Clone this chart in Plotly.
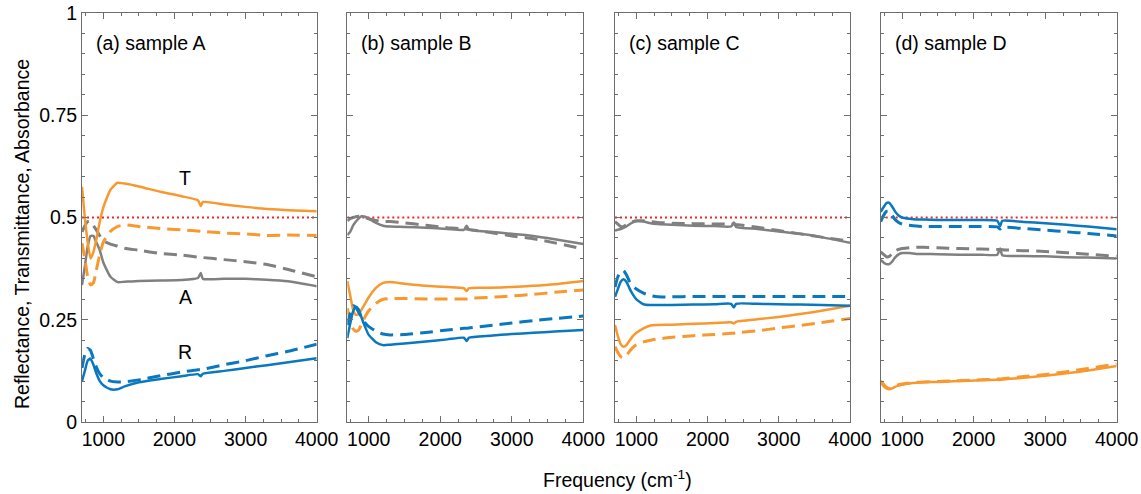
import plotly.graph_objects as go

# ---------------- data ----------------
freq = [700, 740, 780, 820, 860, 900, 950, 1000, 1100, 1200, 1300, 1500,
        1800, 2100, 2330, 2370, 2400, 2700, 3000, 3300, 3600, 4000]

# sample A
a_T = [.575, .50, .44, .40, .415, .445, .49, .525, .568, .585, .583, .576,
       .563, .552, .542, .528, .538, .532, .526, .521, .518, .515]
a_T_d = [.437, .40, .355, .335, .34, .37, .41, .44, .466, .478, .482, .478,
         .473, .47, .467, .466, .466, .462, .46, .456, .457, .456]
a_A = [.335, .38, .43, .455, .455, .44, .42, .39, .355, .342, .343, .345,
       .346, .347, .352, .364, .35, .35, .35, .348, .344, .332]
a_A_d = [.465, .48, .49, .49, .48, .47, .455, .443, .435, .43, .425, .42,
         .412, .408, .403, .402, .402, .397, .392, .385, .373, .355]
a_R = [.10, .125, .15, .155, .14, .12, .10, .09, .08, .08, .087, .097,
       .105, .112, .117, .112, .118, .125, .132, .139, .146, .156]
a_R_d = [.132, .165, .18, .175, .155, .135, .118, .108, .10, .098, .098, .103,
         .113, .122, .128, .128, .129, .14, .15, .162, .173, .19]

# sample B
b_T = [.345, .31, .275, .262, .265, .275, .29, .305, .328, .34, .342, .338,
       .333, .33, .327, .32, .327, .328, .33, .333, .337, .345]
b_T_d = [.278, .25, .228, .222, .225, .24, .258, .272, .29, .30, .302, .302,
         .301, .301, .301, .301, .302, .305, .308, .312, .317, .323]
b_A = [.457, .465, .48, .49, .498, .503, .502, .497, .487, .48, .478, .477,
       .475, .472, .47, .48, .47, .465, .46, .455, .447, .435]
b_A_d = [.492, .497, .50, .502, .503, .502, .50, .497, .493, .49, .49, .487,
         .481, .475, .472, .472, .471, .463, .455, .448, .438, .423]
b_R = [.205, .24, .27, .282, .275, .255, .232, .213, .195, .188, .189, .192,
       .197, .202, .206, .198, .206, .211, .215, .218, .221, .225]
b_R_d = [.237, .265, .284, .28, .268, .255, .242, .233, .222, .215, .213, .214,
         .219, .225, .229, .229, .23, .236, .242, .248, .253, .259]

# sample C
c_T = [.237, .21, .19, .184, .188, .198, .21, .218, .229, .236, .237, .238,
       .24, .242, .244, .241, .245, .251, .257, .264, .272, .284]
c_T_d = [.184, .17, .16, .157, .162, .172, .182, .189, .196, .20, .203, .207,
         .211, .214, .217, .217, .218, .223, .23, .236, .243, .253]
c_A = [.468, .47, .472, .475, .478, .483, .488, .491, .49, .486, .484, .482,
       .48, .479, .478, .488, .477, .472, .466, .46, .452, .438]
c_A_d = [.49, .484, .478, .478, .482, .487, .49, .492, .492, .49, .488, .486,
         .485, .484, .484, .484, .483, .476, .468, .46, .452, .442]
c_R = [.306, .325, .343, .349, .343, .328, .312, .30, .288, .286, .286, .286,
       .287, .288, .289, .28, .289, .289, .288, .287, .286, .284]
c_R_d = [.33, .355, .368, .37, .36, .345, .333, .325, .315, .309, .306, .306,
         .307, .307, .307, .307, .307, .307, .307, .307, .307, .307]

# sample D
d_T = [.096, .088, .082, .08, .082, .086, .089, .091, .094, .096, .097, .098,
       .10, .102, .103, .103, .104, .108, .113, .119, .126, .137]
d_T_d = [.10, .092, .085, .082, .084, .088, .091, .093, .095, .097, .098, .099,
         .101, .103, .105, .105, .106, .111, .116, .123, .131, .142]
d_A = [.396, .39, .386, .386, .392, .402, .41, .413, .413, .411, .411, .41,
       .409, .409, .409, .424, .408, .406, .405, .403, .402, .40]
d_A_d = [.416, .41, .404, .405, .412, .418, .422, .424, .426, .427, .427, .426,
         .424, .423, .422, .422, .421, .419, .417, .414, .41, .405]
d_R = [.514, .525, .535, .536, .527, .515, .505, .50, .497, .495, .495, .494,
       .494, .494, .492, .479, .492, .489, .486, .482, .478, .471]
d_R_d = [.49, .505, .515, .515, .505, .495, .488, .484, .481, .479, .478, .478,
         .478, .478, .477, .472, .476, .473, .469, .465, .461, .455]

ref_x = [700, 4000]
ref_y = [0.5, 0.5]

panel_titles = ["(a) sample A", "(b) sample B", "(c) sample C", "(d) sample D"]
x_ticks = [1000, 2000, 3000, 4000]
y_ticks = [0, 0.25, 0.5, 0.75, 1]
y_tick_text = ["0", "0.25", "0.5", "0.75", "1"]

# labels in panel (a)
lab_text = ["T", "A", "R"]
lab_x = [2150, 2150, 2150]
lab_y = [0.597, 0.306, 0.171]

# ---------------- styling ----------------
BLUE = "#0A78BE"
ORANGE = "#F8982F"
GRAY = "#808080"
AXC = "#6E6E6E"
FONT = "Arial, Liberation Sans, sans-serif"
FS = 19.5
DASH = "13px,7px"

panels = [
    (a_T, a_T_d, a_A, a_A_d, a_R, a_R_d),
    (b_T, b_T_d, b_A, b_A_d, b_R, b_R_d),
    (c_T, c_T_d, c_A, c_A_d, c_R, c_R_d),
    (d_T, d_T_d, d_A, d_A_d, d_R, d_R_d),
]

W, H = 1141, 494
ML, MR, MT, MB = 82, 24, 13, 72
pw = W - ML - MR
ph = H - MT - MB
px_domains = [(81.7, 316.7), (347.3, 583.3), (615.0, 850.0), (880.7, 1116.7)]
domains = [[max(0, (a - ML) / pw), min(1, (b - ML) / pw)] for a, b in px_domains]

fig = go.Figure()

for i, (T, Td, A, Ad, R, Rd) in enumerate(panels):
    xa = "x" if i == 0 else f"x{i+1}"
    ya = "y" if i == 0 else f"y{i+1}"
    fig.add_trace(go.Scatter(x=ref_x, y=ref_y, mode="lines",
                             line=dict(color="#FF2020", width=2, dash="2px,3px"),
                             xaxis=xa, yaxis=ya, showlegend=False, hoverinfo="skip"))
    for ys, col, dash, lw in [(Ad, GRAY, DASH, 3), (A, GRAY, "solid", 2.5),
                              (Td, ORANGE, DASH, 3), (T, ORANGE, "solid", 2.5),
                              (Rd, BLUE, DASH, 3), (R, BLUE, "solid", 2.5)]:
        fig.add_trace(go.Scatter(x=freq, y=ys, mode="lines",
                                 line=dict(color=col, width=lw, dash=dash,
                                           shape="spline", smoothing=0.5),
                                 xaxis=xa, yaxis=ya, showlegend=False))
    key = "" if i == 0 else str(i + 1)
    fig.update_layout(**{
        f"xaxis{key}": dict(domain=domains[i], range=[700, 4000], automargin=False,
                            tickvals=x_ticks, ticks="inside", ticklen=6,
                            tickcolor=AXC, showline=True, linecolor=AXC,
                            linewidth=1, mirror="ticks", showgrid=False,
                            zeroline=False, anchor=ya,
                            tickfont=dict(size=FS, color="#000", family=FONT),
                            minor=dict(dtick=250, tick0=0, ticks="inside",
                                       ticklen=3, tickcolor=AXC)),
        f"yaxis{key}": dict(domain=[0, 1], range=[0, 1], tickvals=y_ticks,
                            automargin=False,
                            ticktext=y_tick_text, ticks="inside", ticklen=6,
                            tickcolor=AXC, showline=True, linecolor=AXC,
                            linewidth=1, mirror="ticks", showgrid=False,
                            zeroline=False, anchor=xa, showticklabels=(i == 0),
                            tickfont=dict(size=FS, color="#000", family=FONT),
                            minor=dict(dtick=0.05, tick0=0, ticks="inside",
                                       ticklen=3, tickcolor=AXC)),
    })
    fig.add_annotation(text=panel_titles[i], xref=f"{xa} domain", yref=f"{ya} domain",
                       x=0.05, y=0.927, xanchor="left", yanchor="middle",
                       showarrow=False, font=dict(size=FS, color="#000", family=FONT))

for t, x, y in zip(lab_text, lab_x, lab_y):
    fig.add_annotation(text=t, x=x, y=y, xref="x", yref="y", showarrow=False,
                       font=dict(size=FS, color="#000", family=FONT))

fig.add_annotation(text="Frequency (cm<sup>-1</sup>)", xref="paper", yref="paper",
                   x=(617 - ML) / pw, y=-(479 - (H - MB)) / ph,
                   xanchor="center", yanchor="middle", showarrow=False,
                   font=dict(size=FS, color="#000", family=FONT))
fig.add_annotation(text="Reflectance, Transmittance, Absorbance", xref="paper",
                   yref="paper", x=-(ML - 22) / pw, y=(422 - 234) / ph,
                   xanchor="center", yanchor="middle", textangle=-90,
                   showarrow=False, font=dict(size=FS, color="#000", family=FONT))

fig.update_layout(width=W, height=H, margin=dict(l=ML, r=MR, t=MT, b=MB, autoexpand=False),
                  plot_bgcolor="white", paper_bgcolor="white",
                  font=dict(family=FONT, color="#000"))

fig.write_html("out.html", config={"displayModeBar": False},
               post_script="document.body.style.margin='0';document.body.style.overflow='hidden';")
